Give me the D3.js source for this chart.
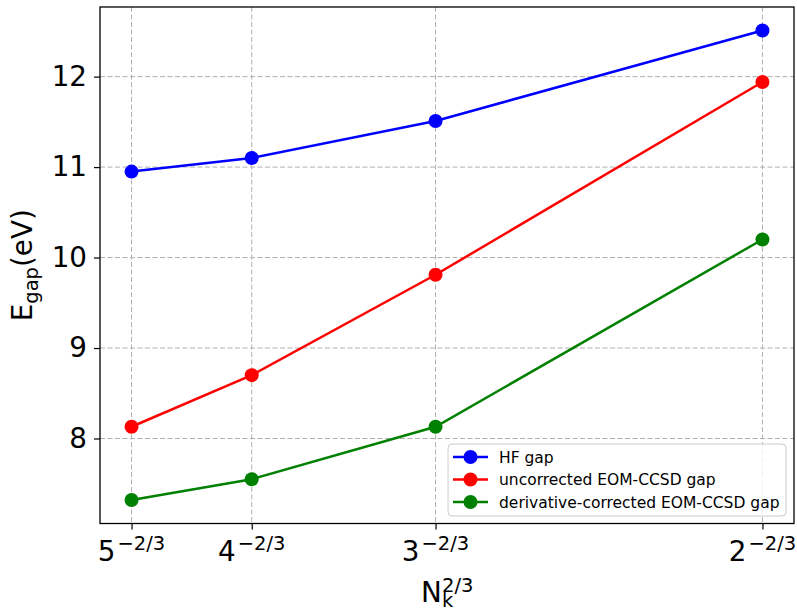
<!DOCTYPE html>
<html>
<head>
<meta charset="utf-8">
<script src="https://cdn.jsdelivr.net/npm/d3@7"></script>
<style>
  body { margin: 0; background: #fff; }
  text { font-family: "DejaVu Sans", sans-serif; }
</style>
</head>
<body>
<script>
// donnees
var kBases = [5, 4, 3, 2];
var xValues = kBases.map(function (b) { return Math.pow(b, -2 / 3); });
var hfGap = [10.95, 11.10, 11.51, 12.51];
var uncorrectedGap = [8.13, 8.70, 9.81, 11.94];
var correctedGap = [7.32, 7.55, 8.13, 10.20];
var yTicks = [8, 9, 10, 11, 12];

var series = [
  { name: "HF gap", values: hfGap, color: "#0000ff" },
  { name: "uncorrected EOM-CCSD gap", values: uncorrectedGap, color: "#ff0000" },
  { name: "derivative-corrected EOM-CCSD gap", values: correctedGap, color: "#008000" }
];

var W = 797, H = 612;
var margin = { top: 7, right: 3, bottom: 88.5, left: 100 };
var width = W - margin.left - margin.right,
    height = H - margin.top - margin.bottom;

var svg = d3.select("body").append("svg")
  .attr("width", W)
  .attr("height", H);

var g = svg.append("g")
  .attr("transform", "translate(" + margin.left + "," + margin.top + ")");

// scales (marge 5% comme matplotlib)
var xMin = d3.min(xValues), xMax = d3.max(xValues);
var xPad = (xMax - xMin) * 0.05;
var x = d3.scaleLinear().domain([xMin - xPad, xMax + xPad]).range([0, width]);

var allY = hfGap.concat(uncorrectedGap, correctedGap);
var yMin = d3.min(allY), yMax = d3.max(allY);
var yPad = (yMax - yMin) * 0.05;
var y = d3.scaleLinear().domain([yMin - yPad, yMax + yPad]).range([height, 0]);

// grille
g.append("g").selectAll("line").data(xValues).enter().append("line")
  .attr("x1", function (d) { return x(d); }).attr("x2", function (d) { return x(d); })
  .attr("y1", 0).attr("y2", height)
  .attr("stroke", "#b0b0b0").attr("stroke-width", 1).attr("stroke-dasharray", "5,2.5");
g.append("g").selectAll("line").data(yTicks).enter().append("line")
  .attr("y1", function (d) { return y(d); }).attr("y2", function (d) { return y(d); })
  .attr("x1", 0).attr("x2", width)
  .attr("stroke", "#b0b0b0").attr("stroke-width", 1).attr("stroke-dasharray", "5,2.5");

// axe Y
var yAxis = g.append("g")
  .call(d3.axisLeft(y).tickValues(yTicks).tickSize(6).tickPadding(7).tickFormat(d3.format("d")));
yAxis.select(".domain").remove();
yAxis.selectAll("line").attr("stroke", "#000").attr("stroke-width", 1.2);
yAxis.selectAll("text").attr("font-size", 27.8).attr("font-family", "DejaVu Sans").attr("fill", "#000");

// axe X avec labels en exposant
var xAxis = g.append("g")
  .attr("transform", "translate(0," + height + ")")
  .call(d3.axisBottom(x).tickValues(xValues).tickSize(6).tickFormat(""));
xAxis.select(".domain").remove();
xAxis.selectAll("line").attr("stroke", "#000").attr("stroke-width", 1.2);

var xLabels = g.append("g").selectAll("text").data(kBases).enter().append("text")
  .attr("x", function (d, i) { return x(xValues[i]); })
  .attr("y", height + 37)
  .attr("text-anchor", "middle")
  .attr("font-size", 27.8);
xLabels.append("tspan").text(function (d) { return d; });
xLabels.append("tspan").attr("dy", -11).attr("dx", 2).attr("font-size", 19.5).text("\u22122/3");

// lignes et points
series.forEach(function (s) {
  var pts = s.values.map(function (v, i) { return [xValues[i], v]; });
  g.append("path")
    .datum(pts)
    .attr("fill", "none")
    .attr("stroke", s.color)
    .attr("stroke-width", 2.5)
    .attr("d", d3.line().x(function (d) { return x(d[0]); }).y(function (d) { return y(d[1]); }));
  g.append("g").selectAll("circle").data(pts).enter().append("circle")
    .attr("cx", function (d) { return x(d[0]); })
    .attr("cy", function (d) { return y(d[1]); })
    .attr("r", 7)
    .attr("fill", s.color);
});

// cadre
g.append("rect")
  .attr("width", width).attr("height", height)
  .attr("fill", "none").attr("stroke", "#000").attr("stroke-width", 1.3);

// legende
var legend = g.append("g").attr("transform", "translate(" + (width - 346) + "," + (height - 79.5) + ")");
legend.append("rect")
  .attr("width", 338).attr("height", 72).attr("rx", 4)
  .attr("fill", "#fff").attr("fill-opacity", 0.8)
  .attr("stroke", "#cccccc").attr("stroke-width", 1);
series.forEach(function (s, i) {
  var ly = 13 + i * 22.5;
  legend.append("line").attr("x1", 5).attr("x2", 40).attr("y1", ly).attr("y2", ly)
    .attr("stroke", s.color).attr("stroke-width", 2.5);
  legend.append("circle").attr("cx", 22.5).attr("cy", ly).attr("r", 7).attr("fill", s.color);
  legend.append("text").attr("x", 51).attr("y", ly + 5.5)
    .attr("font-size", 15.5).attr("fill", "#000").text(s.name);
});

// titre des axes
var yLab = svg.append("text")
  .attr("transform", "translate(32," + (margin.top + height / 2) + ") rotate(-90)")
  .attr("text-anchor", "middle")
  .attr("font-size", 27.8);
yLab.append("tspan").text("E");
yLab.append("tspan").attr("dy", 6).attr("font-size", 19.5).text("gap");
yLab.append("tspan").attr("dy", -6).text("(eV)");

// N_k^{2/3} : indice et exposant empiles
var xLabX = margin.left + width / 2 - 26;
svg.append("text").attr("x", xLabX).attr("y", 602).attr("font-size", 27.8).text("N");
svg.append("text").attr("x", xLabX + 21).attr("y", 607).attr("font-size", 19.5).text("k");
svg.append("text").attr("x", xLabX + 21).attr("y", 592).attr("font-size", 19.5).text("2/3");
</script>
</body>
</html>
